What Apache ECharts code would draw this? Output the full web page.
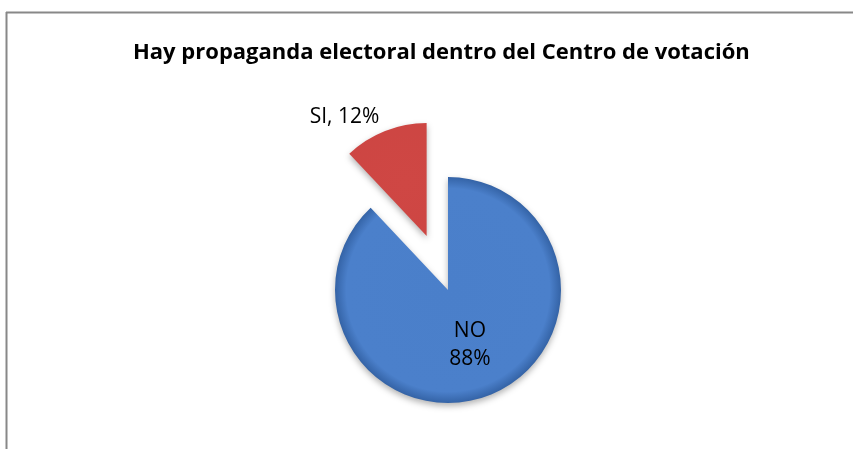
<!DOCTYPE html>
<html>
<head>
<meta charset="utf-8">
<script src="https://cdn.jsdelivr.net/npm/echarts@6/dist/echarts.min.js"></script>
<style>
  html, body { margin: 0; padding: 0; background: #fff; }
  #chart { width: 853px; height: 449px; }
</style>
</head>
<body>
<div id="chart"></div>
<script>
const categories = ["NO", "SI"];
const values = [88, 12];
// fill gradient stops: centre, body, rim
const sliceColors = [
  ["#4a7fca", "#4b80cb", "#3463a6"],
  ["#cf4744", "#cc4542", "#a3302d"]
];
const pieCenter = [448, 290];
const pieRadius = 113;
const siOffset = 58;

const myChart = echarts.init(document.getElementById("chart"));

// the SI slice is pulled out along its mid angle
const siMid = (values[0] + values[1] / 2) / (values[0] + values[1]) * 2 * Math.PI;
const centers = [
  pieCenter,
  [pieCenter[0] + Math.sin(siMid) * siOffset, pieCenter[1] - Math.cos(siMid) * siOffset]
];

const option = {
  backgroundColor: "#fff",
  title: {
    text: "Hay propaganda electoral dentro del Centro de votación",
    left: 128,
    top: 37,
    textStyle: {
      fontFamily: "Open Sans",
      fontWeight: "bold",
      fontSize: 22,
      color: "#000"
    }
  },
  graphic: [
    { type: "line", shape: { x1: 6, y1: 12.5, x2: 853, y2: 12.5 }, style: { stroke: "#888", lineWidth: 2 } },
    { type: "line", shape: { x1: 6.5, y1: 12, x2: 6.5, y2: 449 }, style: { stroke: "#888", lineWidth: 2 } }
  ],
  series: [
    {
      type: "pie",
      center: pieCenter,
      radius: pieRadius,
      startAngle: 90,
      clockwise: true,
      selectedMode: "single",
      selectedOffset: siOffset,
      animation: false,
      emphasis: { disabled: true },
      labelLayout: function (p) {
        // SI label sits above-left of the pulled-out slice
        if (p.dataIndex === 1) {
          return { x: 350, y: 113, align: "center", verticalAlign: "middle" };
        }
      },
      data: categories.map((c, i) => ({
        name: c,
        value: values[i],
        selected: c === "SI",
        itemStyle: {
          color: {
            type: "radial", global: true,
            x: centers[i][0], y: centers[i][1], r: pieRadius,
            colorStops: [
              { offset: 0, color: sliceColors[i][0] },
              { offset: 0.9, color: sliceColors[i][1] },
              { offset: 1, color: sliceColors[i][2] }
            ]
          },
          shadowColor: "rgba(0,0,0,0.3)",
          shadowBlur: 6,
          shadowOffsetY: 3
        },
        label: c === "SI"
          ? { position: "outside", formatter: "{b}, {d}%" }
          : { position: "inner", formatter: "{b}\n{d}%", lineHeight: 28 },
        labelLine: { show: false }
      })),
      label: {
        fontFamily: "Open Sans",
        fontSize: 21,
        color: "#000"
      }
    }
  ]
};

myChart.setOption(option);
</script>
</body>
</html>
